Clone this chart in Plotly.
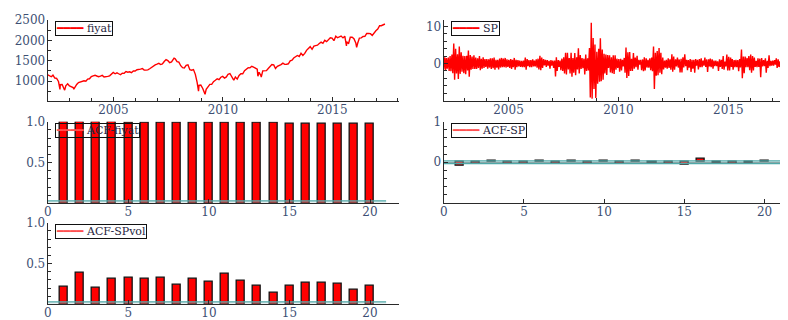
import plotly.graph_objects as go
import pandas as pd

# ---------------- data ----------------
# S&P 500 month-end closes, Jan 2002 .. May 2017 ("fiyat")
price_close = [
    1130, 1107, 1147, 1076, 1067, 990, 912, 916, 815, 886, 936, 880,
    856, 841, 848, 917, 964, 975, 990, 1008, 996, 1051, 1058, 1112,
    1131, 1145, 1126, 1107, 1121, 1141, 1102, 1104, 1115, 1130, 1174, 1212,
    1181, 1204, 1181, 1157, 1192, 1191, 1234, 1220, 1229, 1207, 1249, 1248,
    1280, 1281, 1295, 1311, 1270, 1270, 1277, 1304, 1336, 1378, 1401, 1418,
    1438, 1407, 1421, 1482, 1531, 1503, 1455, 1474, 1527, 1549, 1481, 1468,
    1379, 1331, 1323, 1386, 1400, 1280, 1267, 1283, 1166, 969, 896, 903,
    826, 735, 798, 873, 919, 919, 987, 1021, 1057, 1036, 1096, 1115,
    1074, 1104, 1169, 1187, 1089, 1031, 1102, 1049, 1141, 1183, 1181, 1258,
    1286, 1327, 1326, 1364, 1345, 1321, 1292, 1219, 1131, 1253, 1247, 1258,
    1312, 1366, 1408, 1398, 1310, 1362, 1379, 1407, 1441, 1412, 1416, 1426,
    1498, 1515, 1569, 1598, 1631, 1606, 1686, 1633, 1682, 1757, 1806, 1848,
    1783, 1859, 1872, 1884, 1924, 1960, 1931, 2003, 1972, 2018, 2068, 2059,
    1995, 2105, 2068, 2086, 2107, 2063, 2104, 1972, 1920, 2079, 2080, 2044,
    1940, 1932, 2060, 2065, 2097, 2099, 2174, 2171, 2168, 2126, 2199, 2239,
    2279, 2364, 2363, 2384, 2405,
]
# intra-month extremes visible in the picture
price_extra_dates = ["2002-01-02", "2002-07-23", "2002-10-09", "2003-03-11",
                     "2007-10-09", "2008-11-20", "2009-03-09", "2010-07-02",
                     "2011-08-08", "2011-10-03", "2015-08-25", "2016-02-11"]
price_extra_vals = [1154, 797, 777, 800, 1565, 752, 677, 1022, 1119, 1099, 1867, 1829]

# daily % returns ("SP"): largest and smallest value in each month, Jan 2002 .. May 2017
sp_max = [
    1.2, 1.7, 1.5, 1.6, 2.0, 2.4, 5.4, 4.0, 2.5, 4.6, 3.0, 2.1,
    2.0, 2.1, 3.5, 2.3, 1.9, 2.2, 1.6, 1.4, 2.0, 1.3, 1.7, 1.2,
    1.2, 1.1, 1.4, 1.4, 1.6, 1.0, 1.0, 1.3, 1.5, 1.3, 1.5, 1.1,
    1.0, 1.2, 1.0, 1.5, 1.0, 0.9, 0.8, 0.7, 0.8, 1.6, 1.2, 0.9,
    0.9, 1.1, 0.8, 1.1, 1.3, 2.1, 1.6, 1.2, 1.0, 0.9, 0.7, 0.9,
    0.8, 0.8, 1.7, 0.9, 0.8, 1.3, 1.7, 2.9, 2.9, 1.5, 2.9, 1.5,
    2.8, 1.7, 4.1, 2.3, 1.5, 1.3, 2.4, 1.4, 4.2, 11.0, 6.9, 5.1,
    3.2, 4.0, 6.8, 3.8, 2.6, 2.4, 2.3, 2.2, 1.7, 2.2, 2.2, 1.3,
    1.2, 1.3, 1.0, 1.5, 4.3, 3.0, 3.1, 1.3, 2.8, 1.6, 2.1, 1.0,
    1.0, 1.1, 1.7, 1.4, 1.0, 1.4, 1.6, 4.6, 2.9, 3.4, 4.2, 2.9,
    1.6, 0.8, 1.0, 1.4, 1.1, 2.5, 1.9, 1.1, 1.6, 1.1, 1.3, 1.7,
    2.5, 1.0, 0.9, 1.2, 1.0, 1.0, 1.2, 1.0, 1.2, 1.4, 0.8, 1.6,
    1.1, 1.1, 1.3, 1.1, 0.8, 0.8, 0.6, 1.1, 1.0, 2.0, 0.5, 2.4,
    1.8, 1.6, 1.2, 0.9, 1.0, 0.9, 1.2, 3.8, 1.9, 1.9, 1.5, 2.0,
    2.4, 2.0, 1.6, 0.7, 1.4, 1.3, 1.5, 0.9, 1.4, 0.7, 2.2, 0.7,
    0.8, 0.9, 1.4, 1.1, 0.6,
]
sp_min = [
    -1.6, -1.9, -1.4, -2.0, -2.1, -2.6, -4.4, -2.7, -4.2, -2.8, -2.2, -2.6,
    -2.9, -1.9, -3.6, -1.7, -1.5, -1.5, -1.5, -1.2, -1.8, -1.4, -1.2, -0.9,
    -1.4, -1.1, -1.5, -1.3, -1.7, -1.1, -1.6, -1.1, -1.0, -1.0, -1.1, -0.9,
    -1.2, -1.5, -1.0, -1.7, -1.0, -0.8, -0.9, -1.0, -1.0, -1.7, -0.7, -1.0,
    -1.0, -0.8, -0.8, -1.1, -1.6, -1.8, -1.2, -0.5, -0.9, -0.6, -1.4, -0.6,
    -1.2, -3.5, -2.0, -0.9, -1.8, -2.0, -2.7, -3.0, -1.6, -2.7, -3.6, -2.5,
    -3.2, -1.6, -2.7, -1.5, -1.3, -3.0, -2.0, -1.9, -9.2, -9.5, -6.9, -9.3,
    -5.5, -4.9, -4.8, -4.4, -2.7, -3.1, -1.2, -2.4, -2.6, -2.8, -1.7, -1.2,
    -2.2, -1.9, -0.8, -2.5, -3.9, -3.4, -2.0, -2.0, -1.4, -1.0, -1.7, -0.3,
    -1.8, -2.1, -1.9, -1.1, -1.1, -1.8, -2.1, -6.9, -3.3, -3.2, -2.5, -2.9,
    -1.6, -1.1, -1.4, -1.2, -1.7, -2.2, -1.7, -0.8, -1.1, -2.4, -2.4, -1.1,
    -0.7, -1.8, -1.1, -2.3, -1.4, -2.5, -0.6, -1.6, -1.0, -1.0, -0.6, -0.9,
    -2.3, -0.8, -1.0, -1.4, -0.7, -0.7, -2.0, -0.9, -1.5, -1.7, -0.8, -1.9,
    -1.9, -0.9, -1.7, -1.0, -1.0, -2.1, -1.1, -4.0, -2.6, -1.0, -1.0, -1.8,
    -2.5, -1.9, -0.9, -1.0, -0.9, -3.7, -0.8, -0.7, -2.5, -1.2, -0.7, -0.6,
    -0.6, -0.3, -1.2, -0.9, -1.8,
]

lags = list(range(1, 21))
acf_fiyat = [0.997, 0.996, 0.995, 0.994, 0.993, 0.992, 0.991, 0.990, 0.986, 0.985,
             0.984, 0.983, 0.983, 0.982, 0.981, 0.980, 0.977, 0.976, 0.975, 0.974]
acf_sp = [-0.10, -0.04, 0.03, -0.03, -0.04, 0.03, -0.04, 0.03, -0.03, 0.03,
          -0.03, 0.03, -0.01, -0.04, -0.07, 0.08, -0.01, -0.04, -0.01, 0.03]
acf_spvol = [0.21, 0.39, 0.20, 0.31, 0.33, 0.31, 0.32, 0.24, 0.31, 0.28,
             0.38, 0.29, 0.23, 0.14, 0.23, 0.26, 0.27, 0.25, 0.18, 0.23]
conf_band = 0.032
band_lags = [0, 21]

legend_names = ["fiyat", "SP", "ACF-fiyat", "ACF-SP", "ACF-SPvol"]
time_ticks = [2005, 2010, 2015]

# ---------------- build series ----------------
months = pd.date_range("2002-01-01", periods=len(price_close), freq="MS")
price = pd.concat([
    pd.Series(price_close, index=months + pd.Timedelta(days=27)),
    pd.Series(price_extra_vals, index=pd.to_datetime(price_extra_dates)),
]).sort_index()

sp_dates, sp_vals = [], []
for m, hi, lo in zip(months, sp_max, sp_min):
    sp_dates += [m + pd.Timedelta(days=6), m + pd.Timedelta(days=20)]
    sp_vals += [hi, lo]

# ---------------- layout helpers ----------------
# the page body has an 8px margin, so the figure is drawn 8px in from the corner
OFF = 8
W, H = 788 - OFF, 320 - OFF
def dx(a, b):
    return [(a - OFF) / W, (b - OFF) / W]
def dy(top, bottom):
    return [1 - (bottom - OFF) / H, 1 - (top - OFF) / H]

RED = "#ff0000"
TEAL = "#4fa8a8"
AX = "#2a2a2a"
TICKFONT = dict(family="DejaVu Serif", size=12, color="#3d4f73")

def axis(**kw):
    d = dict(showline=True, linecolor=AX, linewidth=1.3, ticks="inside",
             ticklen=4, tickwidth=1, tickcolor=AX, showgrid=False,
             zeroline=False, tickfont=TICKFONT, fixedrange=True)
    d.update(kw)
    return d

def xaxis(**kw):
    return axis(ticklabelstandoff=-3, **kw)

def yaxis(**kw):
    return axis(ticklabelstandoff=-1, **kw)

fig = go.Figure()

# panel 1: price
fig.add_trace(go.Scatter(x=price.index, y=price.values, mode="lines",
                         line=dict(color=RED, width=1.4), xaxis="x", yaxis="y",
                         showlegend=False))
# panel 2: returns
fig.add_trace(go.Scatter(x=sp_dates, y=sp_vals, mode="lines",
                         line=dict(color=RED, width=1.4), xaxis="x2", yaxis="y2",
                         showlegend=False))

# ACF panels
for vals, xa, ya in [(acf_fiyat, "x3", "y3"), (acf_sp, "x4", "y4"), (acf_spvol, "x5", "y5")]:
    fig.add_trace(go.Bar(x=lags, y=vals, width=0.5, xaxis=xa, yaxis=ya,
                         marker=dict(color=RED, line=dict(color="#111111", width=1.3)),
                         showlegend=False))
    fig.add_trace(go.Scatter(x=band_lags, y=[-conf_band, -conf_band], mode="lines",
                             line=dict(color=TEAL, width=1.3), xaxis=xa, yaxis=ya,
                             showlegend=False))
    fig.add_trace(go.Scatter(x=band_lags, y=[conf_band, conf_band], mode="lines",
                             line=dict(color=TEAL, width=1.3), xaxis=xa, yaxis=ya,
                             fill="tonexty", fillcolor="rgba(170,200,200,0.3)",
                             showlegend=False))

date_tickvals = [f"{y}-01-01" for y in time_ticks]
date_minor = [f"{y}-01-01" for y in range(2003, 2019)]
MINOR = dict(ticks="inside", ticklen=3, tickcolor=AX)

fig.update_layout(
    width=W, height=H, margin=dict(l=0, r=0, t=0, b=0),
    paper_bgcolor="white", plot_bgcolor="white", showlegend=False, bargap=0,
    xaxis=xaxis(domain=dx(44, 397), anchor="y", type="date",
                range=["2002-01-01", "2018-01-18"],
                tickvals=date_tickvals, ticktext=[str(y) for y in time_ticks],
                minor=dict(tickvals=date_minor, **MINOR)),
    yaxis=yaxis(domain=dy(13, 97), anchor="x", range=[500, 2507],
                tickvals=[1000, 1500, 2000, 2500],
                minor=dict(tickvals=[750, 1250, 1750, 2250], **MINOR)),
    xaxis2=xaxis(domain=dx(442, 787), anchor="y2", type="date",
                 range=["2002-01-22", "2017-09-01"],
                 tickvals=date_tickvals, ticktext=[str(y) for y in time_ticks],
                 minor=dict(tickvals=date_minor, **MINOR)),
    yaxis2=yaxis(domain=dy(13, 97), anchor="x2", range=[-10.26, 11.8],
                 tickvals=[0, 10], zeroline=True, zerolinecolor="#999999", zerolinewidth=1,
                 minor=dict(tickvals=[-8, -6, -4, -2, 2, 4, 6, 8], **MINOR)),
    xaxis3=xaxis(domain=dx(44, 397), anchor="y3", range=[0, 21.8],
                 tickvals=[0, 5, 10, 15, 20]),
    yaxis3=yaxis(domain=dy(118, 202), anchor="x3", range=[0, 1.0],
                 tickvals=[0.5, 1.0], ticktext=["0.5", "1.0"],
                 minor=dict(tickvals=[0.1, 0.2, 0.3, 0.4, 0.6, 0.7, 0.8, 0.9], **MINOR)),
    xaxis4=xaxis(domain=dx(442, 787), anchor="y4", range=[0, 21.4],
                 tickvals=[0, 5, 10, 15, 20]),
    yaxis4=yaxis(domain=dy(118, 202), anchor="x4", range=[-1.02, 1.0],
                 tickvals=[0, 1], zeroline=True, zerolinecolor="#999999", zerolinewidth=1,
                 minor=dict(tickvals=[-0.8, -0.6, -0.4, -0.2, 0.2, 0.4, 0.6, 0.8], **MINOR)),
    xaxis5=xaxis(domain=dx(44, 397), anchor="y5", range=[0, 21.8],
                 tickvals=[0, 5, 10, 15, 20]),
    yaxis5=yaxis(domain=dy(222, 306), anchor="x5", range=[0, 1.0],
                 tickvals=[0.5, 1.0], ticktext=["0.5", "1.0"],
                 minor=dict(tickvals=[0.1, 0.2, 0.3, 0.4, 0.6, 0.7, 0.8, 0.9], **MINOR)),
)

# legend boxes (one per panel, like the original; transparent so bars show through)
legend_axes = ["x", "x2", "x3", "x4", "x5"]
legend_y = ["y", "y2", "y3", "y4", "y5"]
legend_colors = [RED, RED, "#ff5050", "#ff5050", "#ff5050"]
for name, xa, ya, col in zip(legend_names, legend_axes, legend_y, legend_colors):
    fig.add_annotation(
        xref=f"{xa} domain", yref=f"{ya} domain", x=0.02, y=0.99,
        xanchor="left", yanchor="top", showarrow=False, align="left",
        text=f"<span style='color:{col}'>\u2501\u2501\u2501\u2501</span> {name}",
        font=dict(family="DejaVu Serif", size=11, color="#1f2540"),
        bordercolor="#111111", borderwidth=1, borderpad=0,
        bgcolor="rgba(255,255,255,0)",
    )

fig.write_html("out.html")
